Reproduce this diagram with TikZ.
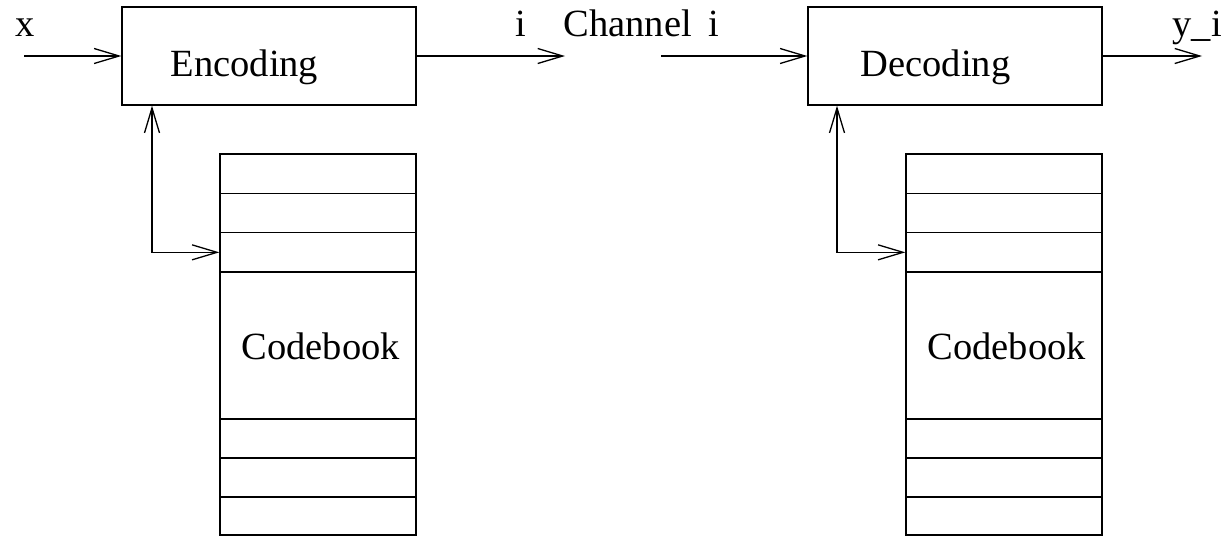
\documentclass[tikz,border=0pt]{standalone}
\usepackage{fontspec}
\setmainfont{Liberation Serif}
\usetikzlibrary{arrows.meta}
\begin{document}
\begin{tikzpicture}[x=1pt,y=-1pt,
  line width=1.3pt,
  font=\fontsize{38.5}{46}\selectfont,
  tip/.tip={Straight Barb[length=25pt,width=15pt,line width=1.3pt]},
  block/.style={draw,rectangle,minimum width=294pt,minimum height=98pt,inner sep=0pt},
  cell/.style={draw,rectangle,minimum width=196pt,inner sep=0pt},
  lbl/.style={anchor=base west,inner sep=0pt},
  flow/.style={-tip},
  both/.style={tip-tip}]
\useasboundingbox (0,0) rectangle (1224,536);

% processing blocks
\node[block] (enc) at (269,56) {};
\node[block] (dec) at (955,56) {};
\node[lbl] at (170,76) {Encoding};
\node[lbl] at (860,76) {Decoding};

% codebooks: three rows, a tall middle part, three rows
\foreach \n/\cx in {A/318,B/1004}{
  \node[cell,minimum height=39.33pt] (cb\n1) at (\cx,173.67) {};
  \node[cell,minimum height=39.33pt] (cb\n2) at (\cx,213) {};
  \node[cell,minimum height=39.33pt] (cb\n3) at (\cx,252.33) {};
  \node[cell,minimum height=147pt]   (cb\n4) at (\cx,345.5) {};
  \node[cell,minimum height=39pt]    (cb\n5) at (\cx,438.5) {};
  \node[cell,minimum height=39pt]    (cb\n6) at (\cx,477.5) {};
  \node[cell,minimum height=38pt]    (cb\n7) at (\cx,516) {};
}
\node[lbl] at (241,359) {Codebook};
\node[lbl] at (927,359) {Codebook};

% signal path
\coordinate (xin)  at (24,56);
\coordinate (iout) at (565,56);
\coordinate (chin) at (661,56);
\coordinate (yout) at (1202,56);
\draw[flow] (xin) -- (enc.west);
\draw[flow] (enc.east) -- (iout);
\draw[flow] (chin) -- (dec.west);
\draw[flow] (dec.east) -- (yout);

% codebook lookups
\draw[both] ([xshift=-117pt]enc.south) |- (cbA3.west);
\draw[both] ([xshift=-118pt]dec.south) |- (cbB3.west);

% signal labels
\node[lbl] at (15,36) {x};
\node[lbl] at (515,36) {i};
\node[lbl] at (563,36) {Channel\hspace{7pt} i};
\node[lbl] at (1172,36) {y\_i};
\end{tikzpicture}
\end{document}
